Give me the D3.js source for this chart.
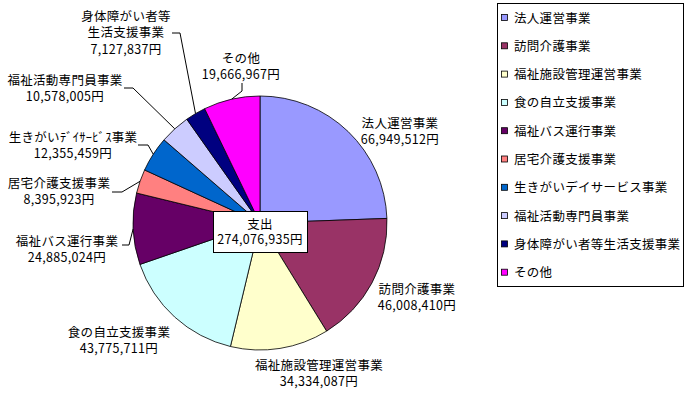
<!DOCTYPE html>
<html>
<head>
<meta charset="utf-8">
<script src="https://cdn.jsdelivr.net/npm/d3@7"></script>
<style>
  body { margin: 0; background: #fff; }
  text { font-family: "Noto Sans CJK JP", sans-serif; font-size: 12.5px; letter-spacing: 0.3px; fill: #000; }
</style>
</head>
<body>
<script>
var Chart = {
  width : 690,
  height : 400,
  cx : 260,
  cy : 223,
  r : 127
};

// 支出の内訳
var categories = ['法人運営事業', '訪問介護事業', '福祉施設管理運営事業', '食の自立支援事業',
  '福祉バス運行事業', '居宅介護支援事業', '生きがいデイサービス事業', '福祉活動専門員事業',
  '身体障がい者等生活支援事業', 'その他'];
var values = [66949512, 46008410, 34334087, 43775711, 24885024, 8395923, 12355459,
  10578005, 7127837, 19666967];
var colors = ['#9999FF', '#993366', '#FFFFCC', '#CCFFFF', '#660066', '#FF8080', '#0066CC',
  '#CCCCFF', '#000080', '#FF00FF'];
// data label text (line breaks as in the chart)
var labelLines = [
  ['法人運営事業'], ['訪問介護事業'], ['福祉施設管理運営事業'], ['食の自立支援事業'],
  ['福祉バス運行事業'], ['居宅介護支援事業'], ['生きがいﾃﾞｲｻｰﾋﾞｽ事業'], ['福祉活動専門員事業'],
  ['身体障がい者等', '生活支援事業'], ['その他']
];
var totalLabel = '支出';

// label placement: centre x, first line y, leader elbow points (null = no leader)
var labelPos = [
  {x: 400, y: 123, leader: null},
  {x: 417, y: 289, leader: null},
  {x: 319, y: 365, leader: null},
  {x: 119, y: 332, leader: null},
  {x: 67, y: 241, leader: [[122, 245], [129, 245]]},
  {x: 59, y: 183, leader: [[112, 192], [122, 192]]},
  {x: 73, y: 137, leader: [[138, 145], [148, 145]]},
  {x: 65, y: 80, leader: [[124, 88], [133, 88]]},
  {x: 126, y: 16, leader: [[172, 33], [180, 33]]},
  {x: 241, y: 58, leader: [[242, 83], [242, 91]]}
];
var lineGap = 16.5;

var fmt = d3.format(',');

var svg = d3.select('body').append('svg')
  .attr('width', Chart.width)
  .attr('height', Chart.height);

var pie = d3.pie().sort(null).value(function(d){ return d; });
var arcs = pie(values);
var arc = d3.arc().innerRadius(0).outerRadius(Chart.r);

var g = svg.append('g')
  .attr('transform', 'translate(' + Chart.cx + ',' + Chart.cy + ')');

g.selectAll('path')
  .data(arcs)
  .enter().append('path')
  .attr('d', arc)
  .attr('fill', function(d, i){ return colors[i]; })
  .attr('stroke', '#000')
  .attr('stroke-width', 0.8);

// leader lines: elbow points then to the pie edge at the slice's middle angle
arcs.forEach(function(d, i){
  var p = labelPos[i];
  if (!p.leader) return;
  var mid = (d.startAngle + d.endAngle) / 2;
  var edge = [Chart.cx + Chart.r * Math.sin(mid), Chart.cy - Chart.r * Math.cos(mid)];
  svg.append('path')
    .attr('d', d3.line()(p.leader.concat([edge])))
    .attr('fill', 'none')
    .attr('stroke', '#000')
    .attr('stroke-width', 1);
});

// data labels
arcs.forEach(function(d, i){
  var p = labelPos[i];
  var lines = labelLines[i].concat([fmt(values[i]) + '円']);
  var t = svg.append('text')
    .attr('text-anchor', 'middle');
  lines.forEach(function(s, j){
    t.append('tspan')
      .attr('x', p.x)
      .attr('y', p.y + j * lineGap + 4.5)
      .text(s);
  });
});

// total box in the middle
var total = d3.sum(values);
svg.append('rect')
  .attr('x', 213.5).attr('y', 211.5)
  .attr('width', 94).attr('height', 41)
  .attr('fill', '#fff')
  .attr('stroke', '#000');
svg.append('text')
  .attr('text-anchor', 'middle')
  .attr('x', Chart.cx).attr('y', 228.5)
  .text(totalLabel);
svg.append('text')
  .attr('text-anchor', 'middle')
  .attr('x', Chart.cx).attr('y', 244)
  .text(fmt(total) + '円');

// legend
var legend = svg.append('g');
legend.append('rect')
  .attr('x', 497.5).attr('y', 3.5)
  .attr('width', 186).attr('height', 283)
  .attr('fill', '#fff')
  .attr('stroke', '#000');

var item = legend.selectAll('g.item')
  .data(categories)
  .enter().append('g')
  .attr('class', 'item')
  .attr('transform', function(d, i){ return 'translate(0,' + (18 + i * 28.3) + ')'; });

item.append('rect')
  .attr('x', 501.5).attr('y', -3.5)
  .attr('width', 6).attr('height', 6)
  .attr('fill', function(d, i){ return colors[i]; })
  .attr('stroke', '#000')
  .attr('stroke-width', 0.8);

item.append('text')
  .attr('x', 514)
  .attr('y', 4.5)
  .text(function(d){ return d; });
</script>
</body>
</html>
